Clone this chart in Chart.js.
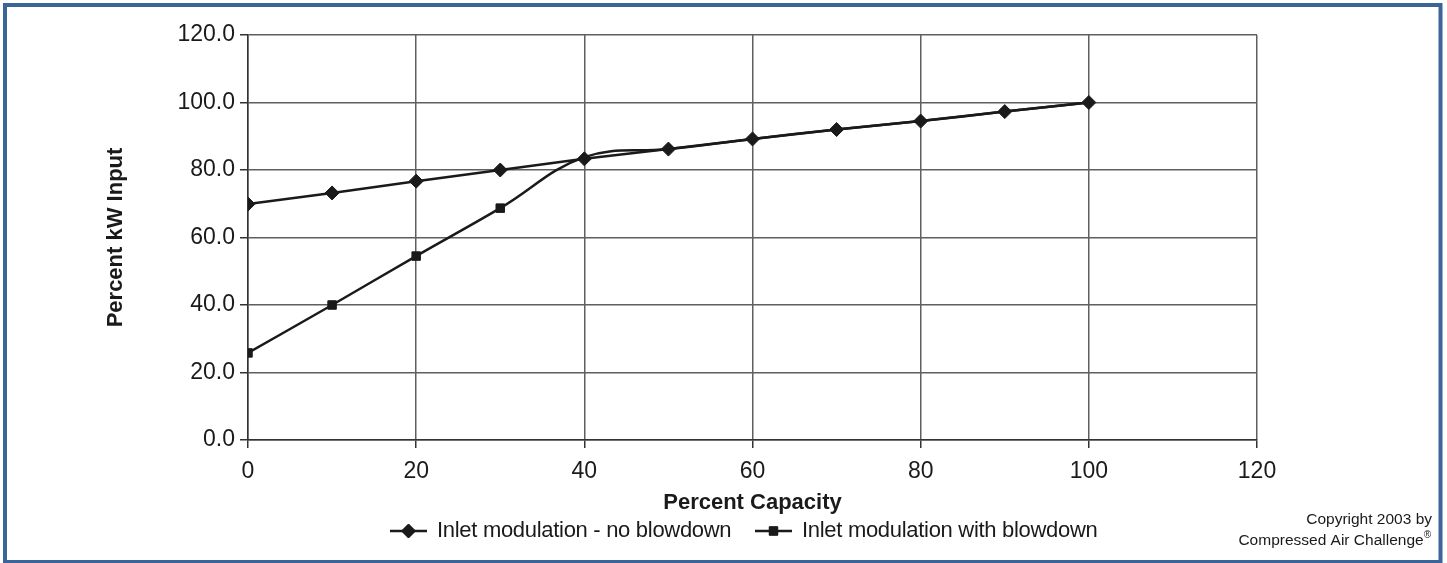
<!DOCTYPE html>
<html>
<head>
<meta charset="utf-8">
<script src="https://cdn.jsdelivr.net/npm/chart.js@4.4.1/dist/chart.umd.min.js"></script>
<style>
  html, body { margin: 0; padding: 0; background: #fff; }
  #wrap { position: absolute; left: 0; top: 0; width: 1447px; height: 563px; }
</style>
</head>
<body>
<div id="wrap"><canvas id="c" width="1447" height="563"></canvas></div>
<script>
// ---- data ----
const capacity = [0, 10, 20, 30, 40, 50, 60, 70, 80, 90, 100];
const noBlowdown = [69.9, 73.2, 76.7, 80.0, 83.3, 86.2, 89.2, 92.0, 94.5, 97.3, 100.0];
const withBlowdown = [25.8, 40.0, 54.5, 68.7, 83.8, 86.2, 89.2, 92.0, 94.5, 97.3, 100.0];
const withBlowdownMarkers = [1, 1, 1, 1, 0, 0, 0, 0, 0, 0, 0];
const seriesLabels = ['Inlet modulation - no blowdown', 'Inlet modulation with blowdown'];
const xTitle = 'Percent Capacity';
const yTitle = 'Percent kW Input';
const copyrightLines = ['Copyright 2003 by', 'Compressed Air Challenge', '®'];

const FONT = "'Liberation Sans', Arial, sans-serif";
const INK = '#1a1a1a';

const framePlugin = {
  id: 'frame',
  beforeDraw(chart) {
    const ctx = chart.ctx;
    ctx.save();
    ctx.fillStyle = '#ffffff';
    ctx.fillRect(0, 0, chart.width, chart.height);
    ctx.restore();
  },
  afterDraw(chart) {
    const ctx = chart.ctx;
    ctx.save();
    // outer blue frame
    ctx.strokeStyle = '#3b6499';
    ctx.lineWidth = 4;
    ctx.strokeRect(5, 5, 1435.5, 557);

    // legend
    ctx.font = '22px ' + FONT;
    if ('letterSpacing' in ctx) ctx.letterSpacing = '-0.3px';
    ctx.textBaseline = 'middle';
    ctx.fillStyle = INK;
    const ly = 531;
    const items = [
      { x: 390, style: 'rectRot', r: 7 },
      { x: 755, style: 'rect', r: 6 }
    ];
    items.forEach((it, i) => {
      ctx.strokeStyle = INK;
      ctx.lineWidth = 2.5;
      ctx.beginPath();
      ctx.moveTo(it.x, ly);
      ctx.lineTo(it.x + 37, ly);
      ctx.stroke();
      ctx.lineWidth = 1;
      Chart.helpers.drawPoint(ctx, { pointStyle: it.style, radius: it.r, rotation: 0, borderWidth: 1 }, it.x + 18.5, ly);
      ctx.fillStyle = INK;
      ctx.fill();
      ctx.textAlign = 'left';
      ctx.fillText(chart.data.datasets[i].label, it.x + 47, ly);
    });
    if ('letterSpacing' in ctx) ctx.letterSpacing = '0px';

    // copyright
    ctx.font = '15.5px ' + FONT;
    ctx.textAlign = 'right';
    ctx.fillStyle = INK;
    ctx.fillText(copyrightLines[0], 1432, 520);
    ctx.font = '10px ' + FONT;
    const rw = ctx.measureText(copyrightLines[2]).width;
    ctx.fillText(copyrightLines[2], 1431, 535);
    ctx.font = '15.5px ' + FONT;
    ctx.fillText(copyrightLines[1], 1431 - rw, 541);
    ctx.restore();
  }
};

const ctx = document.getElementById('c').getContext('2d');
new Chart(ctx, {
  type: 'line',
  data: {
    datasets: [
      {
        label: seriesLabels[0],
        data: capacity.map((x, i) => ({ x: x, y: noBlowdown[i] })),
        borderColor: INK,
        backgroundColor: INK,
        borderWidth: 2.5,
        pointStyle: 'rectRot',
        pointRadius: 7,
        pointBorderWidth: 1,
        pointBackgroundColor: INK,
        pointBorderColor: INK,
        tension: 0
      },
      {
        label: seriesLabels[1],
        data: capacity.map((x, i) => ({ x: x, y: withBlowdown[i] })),
        borderColor: INK,
        backgroundColor: INK,
        borderWidth: 2.5,
        pointStyle: 'rect',
        pointRadius: withBlowdownMarkers.map(m => m ? 6 : 0),
        pointBorderWidth: 1,
        pointBackgroundColor: INK,
        pointBorderColor: INK,
        tension: 0.4
      }
    ]
  },
  plugins: [framePlugin],
  options: {
    responsive: false,
    animation: false,
    events: [],
    layout: { padding: { left: 95, right: 190, top: 35, bottom: 47 } },
    plugins: {
      legend: { display: false },
      tooltip: { enabled: false },
      title: { display: false }
    },
    scales: {
      x: {
        type: 'linear',
        min: 0,
        max: 120,
        ticks: {
          stepSize: 20,
          color: INK,
          font: { family: FONT, size: 23 },
          padding: 10,
          maxRotation: 0
        },
        grid: { color: '#5f5f5f', lineWidth: 1.5, tickLength: 8, tickColor: '#333' },
        border: { color: '#333', width: 1.5 },
        title: {
          display: true,
          text: xTitle,
          color: INK,
          font: { family: FONT, size: 22, weight: 'bold' },
          padding: { top: 0, bottom: 0 }
        },
        afterFit(scale) { scale.height = 76; }
      },
      y: {
        type: 'linear',
        min: 0,
        max: 120,
        ticks: {
          stepSize: 20,
          color: INK,
          font: { family: FONT, size: 23 },
          padding: 5,
          callback: v => Number(v).toFixed(1)
        },
        grid: { color: '#5f5f5f', lineWidth: 1.5, tickLength: 8, tickColor: '#333' },
        border: { color: '#333', width: 1.5 },
        title: {
          display: true,
          text: yTitle,
          color: INK,
          font: { family: FONT, size: 22, weight: 'bold' },
          padding: { top: 8, bottom: 0 }
        },
        afterFit(scale) { scale.width = 153; }
      }
    }
  }
});
</script>
</body>
</html>
